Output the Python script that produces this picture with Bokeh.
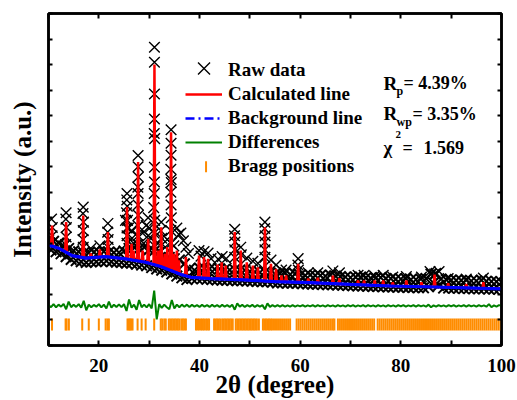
import numpy as np
from bokeh.plotting import figure
from bokeh.models import Range1d, FixedTicker, LinearAxis, Legend, LegendItem, Label
from bokeh.embed import file_html
from bokeh.resources import INLINE

# ---------------- data ----------------
scan_start = 10.0
scan_step = 0.5

# raw data band on the 0.5-degree grid, 10 .. 100
raw_base_y = [
    4.14, 3.74, 4.08, 3.67, 4.01, 3.59, 3.90, 3.48, 3.80, 3.37, 3.71, 3.32, 3.67, 3.28, 3.63, 3.25, 3.63, 3.27, 3.65, 3.28,
    3.66, 3.30, 3.68, 3.31, 3.66, 3.28, 3.64, 3.26, 3.64, 3.25, 3.70, 3.22, 3.80, 3.22, 3.85, 3.18, 3.80, 3.15, 3.85, 3.12,
    3.75, 3.05, 3.70, 3.00, 3.65, 2.95, 3.55, 2.88, 3.45, 2.80, 3.40, 2.72, 3.35, 2.65, 3.20, 2.58, 3.00, 2.62, 2.95, 2.62,
    3.03, 2.61, 3.02, 2.59, 3.00, 2.58, 2.99, 2.57, 3.00, 2.56, 2.98, 2.56, 2.96, 2.55, 2.98, 2.54, 2.96, 2.54, 2.95, 2.53,
    2.90, 2.52, 2.88, 2.51, 2.86, 2.50, 2.88, 2.50, 2.84, 2.48, 2.80, 2.45, 2.82, 2.45, 2.84, 2.44, 2.78, 2.44, 2.80, 2.44,
    2.76, 2.42, 2.74, 2.41, 2.76, 2.40, 2.74, 2.40, 2.74, 2.39, 2.72, 2.38, 2.76, 2.38, 2.72, 2.37, 2.70, 2.36, 2.68, 2.35,
    2.66, 2.34, 2.68, 2.33, 2.68, 2.33, 2.64, 2.32, 2.64, 2.31, 2.64, 2.31, 2.66, 2.30, 2.62, 2.29, 2.62, 2.29, 2.60, 2.28,
    2.60, 2.28, 2.62, 2.27, 2.58, 2.27, 2.58, 2.26, 2.60, 2.26, 2.62, 2.30, 2.80, 2.45, 2.82, 2.35, 2.60, 2.25, 2.58, 2.25,
    2.56, 2.24, 2.55, 2.24, 2.55, 2.23, 2.56, 2.23, 2.53, 2.22, 2.53, 2.22, 2.56, 2.22, 2.52, 2.21, 2.51, 2.21, 2.50, 2.20,
    2.48,
]

# raw data points stacked on the Bragg peaks
raw_peak_x = [
    10.6, 10.75, 10.7,
    13.5, 13.45, 13.55, 13.5, 13.4,
    16.9, 16.85, 16.95, 16.9, 16.85, 16.9,
    18.4, 20.2,
    21.8, 21.75, 21.85, 21.8,
    25.6, 25.55, 25.65, 25.5, 25.7, 25.6, 25.3, 25.9, 25.6, 25.6,
    26.5, 26.6, 26.9,
    27.8, 27.8, 27.85, 27.75, 27.8, 27.8, 27.85, 27.75, 27.8, 27.8,
    28.7, 28.9, 29.4, 29.8, 30.1, 29.8, 30.4,
    31.05, 31.05, 31.05, 31.05, 31.0, 31.1, 31.05, 31.05, 31.0, 30.9, 31.1, 31.0, 31.05,
    32.4, 32.3, 32.5, 31.8,
    33.6, 33.2,
    34.35, 34.35, 34.35, 34.3, 34.35, 34.4, 34.3, 34.35, 34.4, 34.3, 34.35,
    34.9, 35.5, 35.9, 36.3, 36.8, 37.3, 37.8,
    39.9, 40.3, 40.9, 41.7, 42.3, 43.7, 44.5, 45.3,
    47.0, 46.95, 47.05, 47.0, 47.0,
    48.2, 48.3,
    49.4, 50.6, 51.6,
    53.0, 52.95, 53.05, 53.0, 53.0, 53.0,
    54.2, 55.2, 56.3, 57.2,
    59.6, 59.55, 59.65,
    61.6, 63.5, 66.5, 67.8, 71.5, 72.7, 74.8, 76.5, 78.4, 81.1, 84.1, 85.8, 86.7, 87.6, 89.4, 93.0, 96.4,
]
raw_peak_y = [
    4.95, 4.62, 4.30,
    5.20, 4.95, 4.62, 4.25, 3.95,
    5.42, 5.17, 4.83, 4.50, 4.15, 3.85,
    3.80, 3.90,
    4.78, 4.44, 4.15, 3.85,
    5.95, 5.70, 5.45, 5.20, 4.90, 4.60, 4.90, 4.60, 4.30, 4.00,
    4.50, 4.20, 4.00,
    7.44, 7.00, 6.60, 6.20, 5.95, 5.50, 5.10, 4.70, 4.30, 3.95,
    4.40, 4.00, 4.70, 5.00, 4.60, 4.30, 4.20,
    11.68, 11.09, 9.85, 8.87, 8.30, 8.10, 6.98, 6.40, 5.95, 5.40, 4.90, 4.40, 3.90,
    4.83, 4.50, 4.20, 4.00,
    4.15, 3.85,
    8.45, 7.92, 7.45, 6.90, 6.50, 6.38, 6.00, 5.50, 5.00, 4.50, 4.00,
    3.90, 4.60, 4.35, 4.40, 4.10, 3.85, 3.60,
    3.72, 3.50, 3.68, 3.62, 3.40, 3.38, 3.48, 3.40,
    4.55, 4.30, 4.05, 3.75, 3.45,
    3.85, 3.55,
    3.42, 3.30, 3.22,
    4.83, 4.58, 4.30, 4.05, 3.75, 3.45,
    3.35, 3.15, 2.95, 2.95,
    3.40, 3.15, 2.95,
    2.85, 2.85, 2.92, 2.85, 2.75, 2.75, 2.72, 2.75, 2.68, 2.70, 2.68, 2.90, 2.80, 2.90, 2.62, 2.60, 2.64,
]

# background line
bg_x = [10.0, 12.0, 14.7, 17.4, 21.3, 25.3, 29.3, 32.3, 34.3, 36.3, 38.3, 42.3, 48.8, 55.0, 62.0, 70.0, 78.0, 85.0, 100.0]
bg_y = [3.94, 3.81, 3.52, 3.42, 3.48, 3.39, 3.26, 3.09, 2.94, 2.78, 2.67, 2.62, 2.57, 2.50, 2.46, 2.39, 2.33, 2.30, 2.22]

# calculated line: peak positions and peak tops
calc_peak_x = [10.7, 13.5, 16.9, 18.4, 20.2, 21.8, 25.6, 26.5, 26.9, 27.8, 28.7, 29.8, 31.05, 31.8, 32.4, 33.1,
               33.6, 34.35, 34.9, 35.5, 35.9, 37.3, 39.9, 40.9, 41.7, 43.6, 44.4, 45.2, 47.0, 48.2, 49.4, 50.6,
               51.6, 53.0, 54.2, 55.2, 56.3, 57.2, 59.6, 61.6, 63.5, 66.5, 67.8, 71.5, 72.7, 74.8, 76.5, 78.4,
               81.1, 84.1, 86.7, 89.4, 93.0, 96.4]
calc_peak_y = [4.70, 4.83, 5.09, 3.60, 3.76, 4.44, 5.42, 3.98, 3.72, 7.18, 3.72, 4.18, 11.00, 3.72, 4.63, 3.59,
               3.85, 8.35, 3.59, 3.72, 3.33, 3.46, 3.52, 3.46, 3.39, 3.17, 3.26, 3.13, 4.44, 3.72, 3.26, 3.13,
               3.06, 4.63, 3.20, 3.00, 2.74, 2.74, 3.20, 2.62, 2.65, 2.74, 2.64, 2.55, 2.55, 2.55, 2.55, 2.48,
               2.55, 2.48, 2.78, 2.44, 2.41, 2.48]

# difference curve on the 0.5-degree grid, 10 .. 100
diff_y = [
    1.58, 1.50, 1.62, 1.49, 1.60, 1.52, 1.63, 1.42, 1.72, 1.50, 1.60, 1.51, 1.62, 1.48, 1.75, 1.38, 1.60, 1.50, 1.59, 1.52,
    1.62, 1.49, 1.60, 1.45, 1.72, 1.48, 1.60, 1.51, 1.61, 1.50, 1.62, 1.35, 1.80, 1.48, 1.60, 1.40, 1.78, 1.50, 1.60, 1.49,
    1.62, 1.45, 2.15, 1.02, 1.62, 1.47, 1.60, 1.50, 1.42, 1.78, 1.45, 1.60, 1.50, 1.60, 1.52, 1.60, 1.51, 1.59, 1.52, 1.58,
    1.51, 1.59, 1.52, 1.58, 1.51, 1.59, 1.52, 1.58, 1.51, 1.59, 1.52, 1.58, 1.51, 1.60, 1.40, 1.65, 1.52, 1.59, 1.51, 1.58,
    1.52, 1.59, 1.51, 1.58, 1.52, 1.58, 1.42, 1.65, 1.51, 1.58, 1.52, 1.58, 1.52, 1.58, 1.52, 1.57, 1.52, 1.58, 1.52, 1.57,
    1.53, 1.58, 1.52, 1.57, 1.53, 1.58, 1.52, 1.58, 1.53, 1.57, 1.52, 1.58, 1.53, 1.57, 1.52, 1.58, 1.53, 1.57, 1.52, 1.58,
    1.53, 1.58, 1.52, 1.57, 1.53, 1.58, 1.52, 1.58, 1.53, 1.57, 1.52, 1.58, 1.53, 1.57, 1.52, 1.58, 1.53, 1.57, 1.52, 1.58,
    1.53, 1.58, 1.52, 1.57, 1.53, 1.58, 1.52, 1.58, 1.53, 1.57, 1.52, 1.60, 1.50, 1.57, 1.52, 1.58, 1.53, 1.57, 1.52, 1.58,
    1.53, 1.58, 1.52, 1.57, 1.53, 1.58, 1.52, 1.58, 1.53, 1.57, 1.52, 1.58, 1.53, 1.57, 1.52, 1.62, 1.50, 1.57, 1.52, 1.58,
    1.55,
]

# Bragg reflection positions
bragg_x = [
    10.7, 13.4, 13.6, 14.05, 16.7, 18.0, 20.0, 21.35, 21.7, 22.0,
    25.7, 25.95, 26.2, 26.45, 26.7, 27.7, 28.5, 29.3, 31.0, 32.3, 32.6, 33.0, 33.3,
    33.9, 34.2, 34.5, 34.8, 35.1, 35.4, 35.7, 36.0, 36.4, 36.7, 37.0, 37.3,
    39.3, 39.6, 39.9, 40.3, 40.6, 40.9, 41.3, 41.6, 41.9,
    42.9, 43.2, 43.5, 43.8, 44.1, 44.5, 44.8, 45.1, 45.4, 45.7, 46.0, 46.3, 46.6,
    47.2, 47.5, 47.8, 48.1, 48.4, 48.7, 49.0, 49.3, 49.6, 49.9, 50.2, 50.5, 50.8, 51.1, 51.4, 51.8,
    52.6, 52.9, 53.2, 53.5, 53.8, 54.1, 54.4, 54.8, 55.2, 55.6, 56.0, 56.4, 56.8, 57.2, 57.6, 58.0,
    59.3, 59.7, 60.1, 60.5, 60.9, 61.3, 61.7, 62.1, 62.5, 62.9, 63.3, 63.7, 64.1, 64.5, 64.9, 65.3, 65.7, 66.1, 66.5, 66.8,
    67.5, 67.9, 68.3, 68.7, 69.1, 69.5, 69.9, 70.3, 70.7, 71.1, 71.5, 71.9, 72.3, 72.7, 73.1, 73.5, 73.9, 74.3, 74.7,
    75.4, 75.8, 76.2, 76.6, 77.0, 77.4, 77.8, 78.2, 78.6, 79.0, 79.4, 79.8, 80.2, 80.6, 81.0, 81.4, 81.8, 82.2, 82.6,
    83.0, 83.4, 83.8, 84.2, 84.6, 85.0, 85.4, 85.8, 86.2, 86.6, 87.0, 87.4, 87.8, 88.2, 88.6, 89.0, 89.4, 89.8, 90.2,
    90.6, 91.0, 91.4, 91.8, 92.2, 92.6, 93.0, 93.4, 93.8, 94.2, 94.6, 95.0, 95.4, 95.8, 96.2, 96.6, 97.0, 97.4, 97.8,
    98.2, 98.6, 99.0, 99.4, 99.8,
]
bragg_lo = 0.59
bragg_hi = 1.06

x_ticks = [10, 20, 30, 40, 50, 60, 70, 80, 90, 100]
x_tick_text = {10: "", 20: "20", 30: "", 40: "40", 50: "", 60: "60", 70: "", 80: "80", 90: "", 100: "100"}
y_ticks = list(range(0, 14))

# ---------------- derived arrays ----------------
raw_base_x = scan_start + scan_step * np.arange(len(raw_base_y))
diff_x = scan_start + scan_step * np.arange(len(diff_y))

half = 0.18
pkx = np.array(calc_peak_x)
pky = np.array(calc_peak_y)
bgx = np.array(bg_x)
keep = np.array([np.all(np.abs(v - pkx) > half) for v in bgx])
vx = np.concatenate([bgx[keep], pkx - half, pkx, pkx + half])
vy = np.interp(vx, bg_x, bg_y)
n0 = int(keep.sum())
vy[n0 + len(pkx): n0 + 2 * len(pkx)] = pky
order = np.argsort(vx, kind="stable")
calc_x = vx[order]
calc_y = vy[order]

# ---------------- figure ----------------
FONT = "Liberation Serif"

p = figure(width=517, height=400, output_backend="svg", toolbar_location=None,
           x_range=Range1d(10, 100), y_range=Range1d(0, 13),
           min_border_left=48, min_border_right=16, min_border_top=13, min_border_bottom=55)
p.background_fill_color = "white"
p.border_fill_color = "white"
p.xgrid.visible = False
p.ygrid.visible = False
p.outline_line_color = "black"
p.outline_line_width = 2.5

# raw data: dense scan band (heavier strokes) + points on the peaks
r_raw = p.scatter(raw_base_x, raw_base_y, marker="x", size=15, line_color="black", line_width=2.0)
r_raw_pk = p.scatter(raw_peak_x, raw_peak_y, marker="x", size=15, line_color="black", line_width=1.4)
r_calc = p.line(calc_x, calc_y, line_color="red", line_width=2.5)
r_bg_leg = p.line(bg_x, bg_y, line_color="blue", line_width=2.5, line_dash="9 4 2 4")
r_bg = p.line(bg_x, bg_y, line_color="blue", line_width=3.2)
r_diff = p.line(diff_x, diff_y, line_color="green", line_width=2)
r_bragg = p.segment(x0=bragg_x, y0=[bragg_lo] * len(bragg_x), x1=bragg_x, y1=[bragg_hi] * len(bragg_x),
                    line_color="#FF8C00", line_width=2)
# invisible stand-ins for two legend keys (their visible keys are drawn below at full size)
r_raw_leg = p.scatter([], [], marker="x", line_alpha=0, fill_alpha=0)
r_bragg_leg = p.scatter([], [], marker="dash", line_alpha=0, fill_alpha=0)

# axes
xa = p.xaxis[0]
xa.ticker = FixedTicker(ticks=x_ticks)
xa.major_label_overrides = {k: v for k, v in x_tick_text.items()}
xa.minor_tick_line_color = None
xa.major_tick_in = 5
xa.major_tick_out = 0
xa.major_tick_line_width = 2
xa.axis_line_width = 2.5
xa.major_label_text_font = FONT
xa.major_label_text_font_style = "bold"
xa.major_label_text_font_size = "19px"
xa.major_label_text_color = "black"
xa.major_label_standoff = 13
xa.axis_label = "2θ (degree)"
xa.axis_label_text_font = FONT
xa.axis_label_text_font_style = "bold"
xa.axis_label_text_font_size = "25px"
xa.axis_label_text_color = "black"
xa.axis_label_standoff = -4

ya = p.yaxis[0]
ya.ticker = FixedTicker(ticks=y_ticks)
ya.major_label_overrides = {t: "" for t in y_ticks}
ya.minor_tick_line_color = None
ya.major_tick_in = 4
ya.major_tick_out = 0
ya.major_tick_line_width = 2
ya.axis_line_width = 2.5
ya.major_label_standoff = 0
ya.axis_label = "Intensity (a.u.)"
ya.axis_label_text_font = FONT
ya.axis_label_text_font_style = "bold"
ya.axis_label_text_font_size = "25px"
ya.axis_label_text_color = "black"
ya.axis_label_standoff = 13

top = LinearAxis(ticker=FixedTicker(ticks=x_ticks), major_label_overrides={t: "" for t in x_ticks},
                 major_label_text_font_size="8px",
                 major_label_standoff=0, major_tick_in=5, major_tick_out=0, major_tick_line_width=2,
                 minor_tick_line_color=None, axis_line_width=2.5)
p.add_layout(top, "above")
right = LinearAxis(ticker=FixedTicker(ticks=y_ticks), major_label_overrides={t: "" for t in y_ticks},
                   major_label_text_font_size="8px",
                   major_label_standoff=0, major_tick_in=4, major_tick_out=0, major_tick_line_width=2,
                   minor_tick_line_color=None, axis_line_width=2.5)
p.add_layout(right, "right")

# legend
legend = Legend(items=[
    LegendItem(label="Raw data", renderers=[r_raw_leg]),
    LegendItem(label="Calculated line", renderers=[r_calc]),
    LegendItem(label="Background line", renderers=[r_bg_leg]),
    LegendItem(label="Differences", renderers=[r_diff]),
    LegendItem(label="Bragg positions", renderers=[r_bragg_leg]),
], location=(137, 168))
legend.background_fill_alpha = 0
legend.border_line_alpha = 0
legend.label_text_font = FONT
legend.label_text_font_style = "bold"
legend.label_text_font_size = "19px"
legend.label_text_color = "black"
legend.glyph_width = 37
legend.glyph_height = 22
legend.label_height = 22
legend.label_standoff = 6
legend.spacing = 2
legend.padding = 0
legend.margin = 0
p.add_layout(legend)

# full-size legend keys for "Raw data" (X) and "Bragg positions" (vertical tick)
p.scatter([40.9], [10.85], marker="x", size=17, line_color="black", line_width=1.4)
p.segment(x0=[41.3], y0=[6.78], x1=[41.3], y1=[7.21], line_color="#FF8C00", line_width=2)

# refinement statistics
xs = 76.56
def lab(x_off, y, text, size):
    p.add_layout(Label(x=xs, y=y, x_offset=x_off, text=text, text_baseline="alphabetic",
                       text_font=FONT, text_font_style="bold", text_font_size=size, text_color="black"))

lab(0, 10.26, "R", "19px")
lab(13, 9.95, "p", "12px")
lab(20, 10.26, "= 4.39%", "18px")
lab(0, 9.08, "R", "19px")
lab(13, 8.77, "wp", "12px")
lab(29, 9.08, "= 3.35%", "18px")
lab(0, 7.75, "χ", "19px")
lab(12, 8.28, "2", "11px")
lab(19, 7.75, "=", "18px")
lab(40, 7.75, "1.569", "18px")

open("out.html", "w").write(file_html(p, INLINE))
